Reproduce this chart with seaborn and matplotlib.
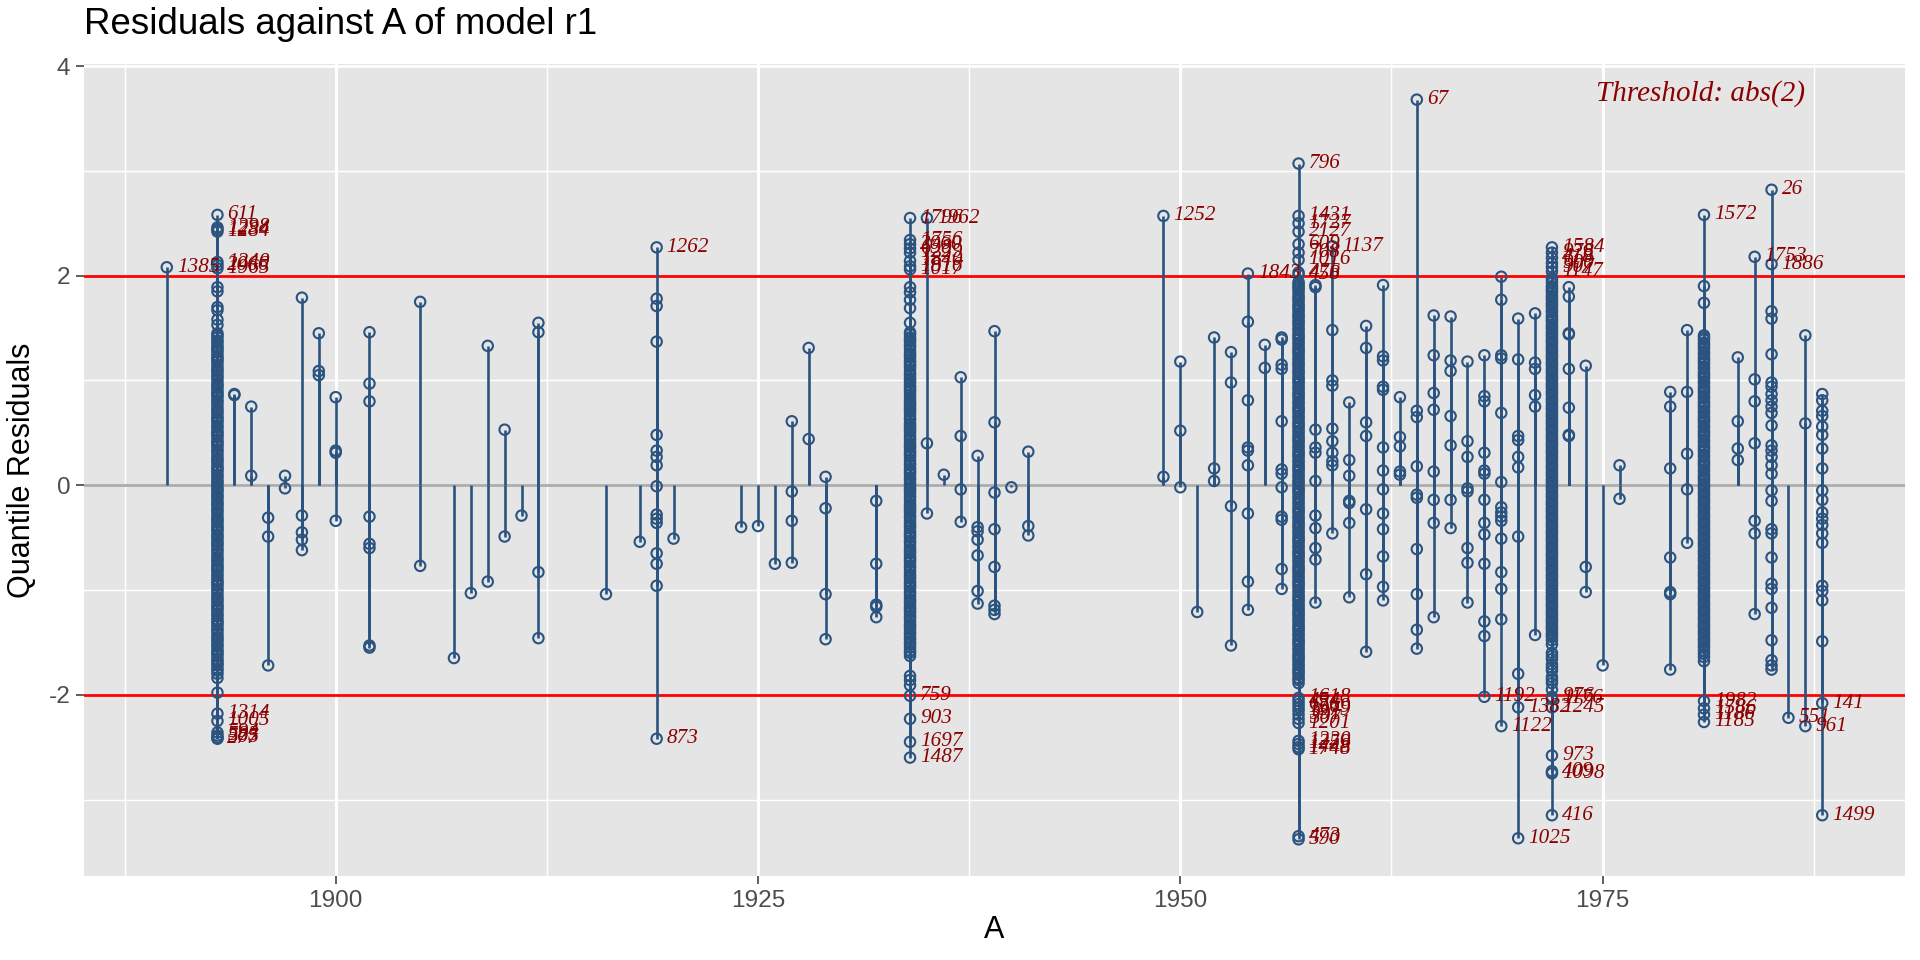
import matplotlib
matplotlib.use("Agg")
import numpy as np
import pandas as pd
import matplotlib.pyplot as plt
import seaborn as sns


sparse_years = [1894, 1895, 1896, 1897, 1898, 1899, 1900, 1902, 1905, 1907, 1908, 1909,
                1910, 1911, 1912, 1916, 1918, 1919, 1920, 1924, 1925, 1926, 1927, 1928,
                1929, 1932, 1935, 1936, 1937, 1938, 1939, 1940, 1941, 1949, 1950, 1951,
                1952, 1953, 1954, 1955, 1956, 1958, 1959, 1960, 1961, 1962, 1963, 1964,
                1965, 1966, 1967, 1968, 1969, 1970, 1971, 1973, 1974, 1975, 1976, 1979,
                1980, 1983, 1984, 1985, 1987, 1988]

sparse_values = [
    [0.87, 0.86],
    [0.75, 0.09],
    [-0.31, -0.49, -1.72],
    [0.09, -0.03],
    [1.79, -0.29, -0.45, -0.52, -0.62],
    [1.45, 1.09, 1.05],
    [0.84, 0.33, 0.31, -0.34],
    [1.46, 0.97, 0.80, -0.30, -0.56, -0.60, -1.53, -1.55],
    [1.75, -0.77],
    [-1.65],
    [-1.03],
    [1.33, -0.92],
    [0.53, -0.49],
    [-0.29],
    [1.55, 1.46, -0.83, -1.46],
    [-1.04],
    [-0.54],
    [1.78, 1.71, 1.37, 0.48, 0.33, 0.27, 0.19, -0.01, -0.28, -0.32, -0.36, -0.65, -0.75, -0.96],
    [-0.51],
    [-0.40],
    [-0.39],
    [-0.75],
    [0.61, -0.06, -0.34, -0.74],
    [1.31, 0.44],
    [0.08, -0.22, -1.04, -1.47],
    [-0.15, -0.75, -1.14, -1.16, -1.26],
    [0.40, -0.27],
    [0.10],
    [1.03, 0.47, -0.04, -0.35],
    [0.28, -0.40, -0.44, -0.52, -0.67, -1.01, -1.13],
    [1.47, 0.60, -0.07, -0.42, -0.78, -1.15, -1.19, -1.23],
    [-0.02],
    [0.32, -0.39, -0.48],
    [0.08],
    [1.18, 0.52, -0.02],
    [-1.21],
    [1.41, 0.16, 0.04],
    [1.27, 0.98, -0.20, -1.53],
    [1.56, 0.81, 0.36, 0.33, 0.19, -0.27, -0.92, -1.19],
    [1.34, 1.12],
    [1.41, 1.39, 1.15, 1.11, 0.61, 0.15, 0.11, -0.02, -0.30, -0.33, -0.80, -0.99],
    [1.91, 1.89, 0.53, 0.36, 0.31, 0.04, -0.29, -0.41, -0.60, -0.71, -1.12],
    [1.48, 1.00, 0.95, 0.54, 0.42, 0.31, 0.23, 0.19, -0.46],
    [0.79, 0.24, 0.09, -0.15, -0.17, -0.36, -1.07],
    [1.52, 1.31, 0.60, 0.47, -0.23, -0.85, -1.59],
    [1.91, 1.23, 1.19, 0.94, 0.91, 0.36, 0.14, -0.04, -0.27, -0.42, -0.68, -0.97, -1.10],
    [0.84, 0.46, 0.37, 0.13, 0.10],
    [0.71, 0.65, 0.18, -0.09, -0.12, -0.61, -1.04, -1.38, -1.56],
    [1.62, 1.24, 0.88, 0.72, 0.13, -0.14, -0.36, -1.26],
    [1.61, 1.19, 1.09, 0.66, 0.38, -0.14, -0.41],
    [1.18, 0.42, 0.27, -0.03, -0.06, -0.60, -0.74, -1.12],
    [1.24, 0.85, 0.80, 0.31, 0.14, 0.11, -0.14, -0.36, -0.47, -0.75, -1.30, -1.44],
    [1.99, 1.77, 1.24, 1.21, 0.69, 0.03, -0.21, -0.26, -0.30, -0.34, -0.51, -0.83, -0.99, -1.28],
    [1.59, 1.20, 0.47, 0.43, 0.27, 0.17, -0.49, -1.80],
    [1.64, 1.17, 1.11, 0.86, 0.75, -1.43],
    [1.89, 1.80, 1.45, 1.44, 1.11, 0.74, 0.48, 0.47],
    [1.14, -0.78, -1.02],
    [-1.72],
    [0.19, -0.13],
    [0.89, 0.75, 0.16, -0.69, -1.02, -1.04, -1.76],
    [1.48, 0.89, 0.30, -0.04, -0.55],
    [1.22, 0.61, 0.35, 0.24],
    [1.01, 0.80, 0.40, -0.34, -0.46, -1.23],
    [1.66, 1.59, 1.25, 0.98, 0.94, 0.87, 0.81, 0.75, 0.69, 0.57, 0.38, 0.33, 0.27, 0.19,
     0.11, -0.05, -0.15, -0.42, -0.46, -0.69, -0.94, -0.99, -1.17, -1.48, -1.67, -1.72, -1.76],
    [1.43, 0.59],
    [0.87, 0.81, 0.71, 0.66, 0.56, 0.48, 0.35, 0.16, -0.05, -0.14, -0.26, -0.32, -0.38,
     -0.46, -0.55, -0.96, -1.01, -1.10, -1.49],
]

# crowded years (solid bands in the chart), values inside the thresholds
res_1893 = [1.89, 1.85, 1.70, 1.67, 1.58, 1.53, 1.45, 1.41, 1.36, 1.31, 1.27, 1.22, 1.18,
            1.12, 1.08, 1.03, 0.97, 0.93, 0.88, 0.84, 0.79, 0.73, 0.69, 0.64, 0.60, 0.55,
            0.50, 0.46, 0.41, 0.37, 0.32, 0.26, 0.22, 0.17, 0.13, 0.08, 0.03, -0.02, -0.06,
            -0.11, -0.16, -0.20, -0.25, -0.31, -0.35, -0.40, -0.44, -0.49, -0.54, -0.58,
            -0.63, -0.69, -0.73, -0.78, -0.82, -0.87, -0.92, -0.96, -1.01, -1.07, -1.11,
            -1.16, -1.20, -1.25, -1.30, -1.34, -1.39, -1.45, -1.49, -1.54, -1.59, -1.63,
            -1.68, -1.72, -1.77, -1.84, -1.98,
            1.43, 1.38, 1.33, 1.29, 1.24, 1.20, 1.15, 1.10, 1.05, 1.00, 0.95, 0.90, 0.86,
            0.81, 0.76, 0.71, 0.66, 0.62, 0.57, 0.52, 0.48, 0.43, 0.39, 0.34, 0.29, 0.24,
            0.19, 0.15, 0.10, 0.05, 0.01, -0.04, -0.09, -0.13, -0.18, -0.23, -0.28, -0.33,
            -0.38, -0.42, -0.47, -0.51, -0.56, -0.61, -0.66, -0.71, -0.76, -0.80, -0.85,
            -0.90, -0.94, -0.99, -1.04, -1.09, -1.14, -1.18, -1.23, -1.28, -1.32, -1.37,
            -1.42, -1.47, -1.52, -1.57, -1.61, -1.66, -1.70, -1.75, -1.80]
res_1934 = [1.89, 1.84, 1.77, 1.69, 1.55, 1.46, 1.41, 1.37, 1.32, 1.26, 1.22, 1.17, 1.13,
            1.07, 1.02, 0.98, 0.93, 0.89, 0.83, 0.78, 0.74, 0.70, 0.64, 0.59, 0.55, 0.51,
            0.45, 0.40, 0.36, 0.31, 0.27, 0.21, 0.16, 0.12, 0.07, 0.02, -0.03, -0.07, -0.12,
            -0.18, -0.22, -0.26, -0.31, -0.37, -0.41, -0.46, -0.50, -0.55, -0.61, -0.65,
            -0.70, -0.74, -0.79, -0.85, -0.89, -0.94, -0.98, -1.03, -1.09, -1.13, -1.18,
            -1.22, -1.27, -1.33, -1.37, -1.42, -1.47, -1.52, -1.58, -1.63, -1.82, -1.86, -1.91,
            1.44, 1.39, 1.34, 1.29, 1.24, 1.19, 1.15, 1.10, 1.05, 1.00, 0.95, 0.91, 0.86,
            0.80, 0.76, 0.72, 0.67, 0.62, 0.57, 0.53, 0.48, 0.43, 0.38, 0.33, 0.29, 0.24,
            0.19, 0.14, 0.10, 0.05, 0.00, -0.05, -0.10, -0.15, -0.20, -0.24, -0.29, -0.34,
            -0.39, -0.44, -0.48, -0.53, -0.58, -0.63, -0.68, -0.72, -0.77, -0.82, -0.87,
            -0.92, -0.96, -1.01, -1.06, -1.11, -1.16, -1.20, -1.25, -1.30, -1.35, -1.40,
            -1.45, -1.50, -1.55, -1.60]
res_1957 = [1.94, 1.90, 1.86, 1.80, 1.76, 1.71, 1.67, 1.62, 1.57, 1.53, 1.48, 1.43, 1.39,
            1.34, 1.29, 1.25, 1.20, 1.15, 1.10, 1.06, 1.01, 0.97, 0.92, 0.87, 0.83, 0.78,
            0.73, 0.69, 0.64, 0.59, 0.55, 0.50, 0.45, 0.41, 0.36, 0.31, 0.27, 0.22, 0.17,
            0.13, 0.08, 0.03, -0.02, -0.06, -0.11, -0.16, -0.21, -0.25, -0.30, -0.35, -0.39,
            -0.44, -0.49, -0.53, -0.58, -0.63, -0.67, -0.72, -0.77, -0.81, -0.86, -0.91,
            -0.95, -1.00, -1.05, -1.09, -1.14, -1.19, -1.23, -1.28, -1.33, -1.37, -1.42,
            -1.47, -1.51, -1.56, -1.61, -1.65, -1.70, -1.75, -1.79, -1.84, -1.89,
            1.92, 1.88, 1.83, 1.78, 1.73, 1.69, 1.64, 1.60, 1.55, 1.50, 1.45, 1.41, 1.36,
            1.31, 1.27, 1.22, 1.17, 1.13, 1.08, 1.03, 0.99, 0.94, 0.89, 0.85, 0.80, 0.75,
            0.71, 0.66, 0.61, 0.57, 0.52, 0.47, 0.43, 0.38, 0.33, 0.29, 0.24, 0.19, 0.15,
            0.10, 0.05, 0.01, -0.04, -0.08, -0.13, -0.18, -0.23, -0.27, -0.32, -0.37, -0.41,
            -0.46, -0.51, -0.55, -0.60, -0.65, -0.69, -0.74, -0.79, -0.83, -0.88, -0.93,
            -0.97, -1.02, -1.07, -1.11, -1.16, -1.21, -1.25, -1.30, -1.35, -1.39, -1.44,
            -1.49, -1.53, -1.58, -1.63, -1.67, -1.72, -1.77, -1.81, -1.86]
res_1972 = [1.98, 1.93, 1.88, 1.84, 1.79, 1.74, 1.70, 1.65, 1.60, 1.56, 1.51, 1.46, 1.42,
            1.37, 1.32, 1.28, 1.23, 1.18, 1.14, 1.09, 1.04, 1.00, 0.95, 0.90, 0.86, 0.81,
            0.76, 0.72, 0.67, 0.62, 0.58, 0.53, 0.48, 0.44, 0.39, 0.34, 0.30, 0.25, 0.20,
            0.16, 0.11, 0.06, 0.02, -0.03, -0.08, -0.12, -0.17, -0.22, -0.26, -0.31, -0.36,
            -0.40, -0.45, -0.50, -0.54, -0.59, -0.64, -0.68, -0.73, -0.78, -0.82, -0.87,
            -0.92, -0.96, -1.01, -1.06, -1.10, -1.15, -1.20, -1.24, -1.29, -1.34, -1.38,
            -1.43, -1.48, -1.60, -1.66, -1.71, -1.77, -1.83, -1.89, -1.95,
            1.96, 1.90, 1.86, 1.81, 1.77, 1.72, 1.67, 1.62, 1.58, 1.53, 1.49, 1.44, 1.39,
            1.35, 1.30, 1.25, 1.21, 1.16, 1.11, 1.07, 1.02, 0.97, 0.93, 0.88, 0.83, 0.79,
            0.74, 0.69, 0.65, 0.60, 0.55, 0.51, 0.46, 0.41, 0.37, 0.32, 0.27, 0.23, 0.18,
            0.13, 0.09, 0.04, -0.01, -0.05, -0.10, -0.15, -0.19, -0.24, -0.29, -0.33, -0.38,
            -0.43, -0.47, -0.52, -0.57, -0.61, -0.66, -0.71, -0.75, -0.80, -0.85, -0.89,
            -0.94, -0.99, -1.03, -1.08, -1.13, -1.17, -1.22, -1.27, -1.31, -1.36, -1.41,
            -1.45, -1.52, -1.63, -1.74, -1.86]
res_1981 = [1.90, 1.74, 1.43, 1.39, 1.34, 1.30, 1.25, 1.20, 1.16, 1.11, 1.06, 1.02, 0.97,
            0.92, 0.88, 0.83, 0.78, 0.74, 0.69, 0.64, 0.60, 0.55, 0.50, 0.46, 0.41, 0.36,
            0.32, 0.27, 0.22, 0.18, 0.13, 0.08, 0.04, -0.01, -0.06, -0.10, -0.15, -0.20,
            -0.24, -0.29, -0.34, -0.38, -0.43, -0.48, -0.52, -0.57, -0.62, -0.66, -0.71,
            -0.76, -0.80, -0.85, -0.90, -0.94, -0.99, -1.04, -1.08, -1.13, -1.18, -1.22,
            -1.27, -1.32, -1.36, -1.41, -1.46, -1.50, -1.55, -1.61, -1.68,
            1.41, 1.36, 1.32, 1.27, 1.22, 1.18, 1.13, 1.08, 1.04, 0.99, 0.94, 0.90, 0.85,
            0.80, 0.76, 0.71, 0.66, 0.62, 0.57, 0.52, 0.48, 0.43, 0.38, 0.34, 0.29, 0.24,
            0.20, 0.15, 0.10, 0.06, 0.01, -0.03, -0.08, -0.13, -0.17, -0.22, -0.27, -0.31,
            -0.36, -0.41, -0.45, -0.50, -0.55, -0.59, -0.64, -0.69, -0.73, -0.78, -0.83,
            -0.87, -0.92, -0.97, -1.01, -1.06, -1.11, -1.15, -1.20, -1.25, -1.29, -1.34,
            -1.39, -1.43, -1.48, -1.53, -1.58, -1.64]

# observations beyond abs(2), with their row ids
flag_years = [1890,
              1893, 1893, 1893, 1893, 1893, 1893, 1893, 1893, 1893, 1893, 1893, 1893, 1893,
              1919, 1919,
              1934, 1934, 1934, 1934, 1934, 1934, 1934, 1934, 1934, 1934, 1934, 1934,
              1935, 1949, 1954,
              1957, 1957, 1957, 1957, 1957, 1957, 1957, 1957, 1957, 1957, 1957, 1957,
              1957, 1957, 1957, 1957, 1957, 1957, 1957, 1957, 1957, 1957, 1957,
              1959, 1964, 1968, 1969, 1970, 1970,
              1972, 1972, 1972, 1972, 1972, 1972, 1972, 1972, 1972, 1972, 1972, 1972, 1972,
              1981, 1981, 1981, 1981, 1981,
              1984, 1985, 1985, 1986, 1987, 1988, 1988]
flag_values = [2.08,
               2.58, 2.46, 2.44, 2.42, 2.13, 2.10, 2.07, -2.18, -2.25, -2.36, -2.39, -2.41, -2.42,
               2.27, -2.42,
               2.55, 2.34, 2.30, 2.26, 2.22, 2.14, 2.09, 2.06, -2.01, -2.23, -2.45, -2.60,
               2.55, 2.57, 2.02,
               3.07, 2.57, 2.50, 2.42, 2.30, 2.22, 2.15, 2.03, 2.01,
               -2.03, -2.06, -2.09, -2.12, -2.15, -2.19, -2.23, -2.27, -2.44, -2.47, -2.50,
               -2.52, -3.35, -3.38,
               2.28, 3.68, -2.02, -2.30, -2.12, -3.37,
               2.27, 2.22, 2.17, 2.12, 2.08, 2.04, -2.02, -2.04, -2.12, -2.58, -2.73, -2.75, -3.15,
               2.58, -2.06, -2.13, -2.19, -2.26,
               2.18, 2.82, 2.11, -2.22, -2.30, -2.08, -3.15]
flag_ids = ["1385",
            "611", "1298", "1234", "1284", "1240", "2066", "1965", "1314", "1005", "594",
            "583", "505", "277",
            "1262", "873",
            "1796", "1756", "2060", "638", "1229", "1840", "1816", "1017", "759", "903",
            "1697", "1487",
            "1962", "1252", "1843",
            "796", "1431", "1727", "2127", "609", "708", "1016", "476", "458",
            "1618", "454", "676", "1569", "1979", "391", "307", "1201", "1220", "1259",
            "1448", "1748", "473", "590",
            "1137", "67", "1192", "1122", "1382", "1025",
            "1584", "978", "418", "900", "907", "1147", "976", "1176", "1245", "973",
            "409", "1098", "416",
            "1572", "1982", "1586", "1186", "1185",
            "1753", "26", "1886", "551", "961", "141", "1499"]

threshold = 2
threshold_note = "Threshold: abs(2)"


def build_points():
	rows = []
	for yr, vals in zip(sparse_years, sparse_values):
		rows += [(yr, v) for v in vals]
	for yr, vals in [(1893, res_1893), (1934, res_1934), (1957, res_1957),
	                 (1972, res_1972), (1981, res_1981)]:
		rows += [(yr, v) for v in vals]
	rows += list(zip(flag_years, flag_values))
	return pd.DataFrame(rows, columns=["A", "resid"])


pts = build_points()
flags = pd.DataFrame({"A": flag_years, "resid": flag_values, "id": flag_ids})

sns.set_style("darkgrid", {"axes.facecolor": "#E5E5E5", "grid.color": "white"})
plt.rcParams["font.family"] = ["Liberation Sans", "DejaVu Sans"]
plt.rcParams["axes.unicode_minus"] = False

blue = "#2B5380"
dark_red = "#8B0000"

fig = plt.figure(figsize=(9.6, 4.8), dpi=200)
ax = fig.add_axes([84 / 1920, 1 - 876 / 960, (1905 - 84) / 1920, (876 - 64) / 960])

# segments from zero to each residual
ax.vlines(pts["A"], 0, pts["resid"], color=blue, linewidth=0.95, zorder=2)
ax.axhline(0, color="#ABABAB", linewidth=1.0, zorder=1.5)
ax.axhline(threshold, color="red", linewidth=1.0, zorder=1.6)
ax.axhline(-threshold, color="red", linewidth=1.0, zorder=1.6)

sns.scatterplot(data=pts, x="A", y="resid", ax=ax, marker="o", s=14,
                color=blue, facecolor="none", edgecolor=blue, linewidth=0.75,
                zorder=3, legend=False)

for _, row in flags.iterrows():
	ax.annotate(row["id"], (row["A"], row["resid"]), xytext=(3.6, 0),
	            textcoords="offset points", ha="left", va="center",
	            fontsize=7.6, color=dark_red, style="italic",
	            family=["Liberation Serif", "DejaVu Serif"], zorder=4)

ax.text(1987, 3.74, threshold_note, ha="right", va="center", fontsize=10.5,
        color=dark_red, style="italic", family=["Liberation Serif", "DejaVu Serif"])

ax.set_xlim(1885.1, 1992.9)
ax.set_ylim(-3.73, 4.02)
ax.set_xticks([1900, 1925, 1950, 1975])
ax.set_xticks([1887.5, 1912.5, 1937.5, 1962.5, 1987.5], minor=True)
ax.set_yticks([-2, 0, 2, 4])
ax.set_yticks([-3, -1, 1, 3], minor=True)
ax.grid(which="major", color="white", linewidth=1.07)
ax.grid(which="minor", color="white", linewidth=0.53)
for s in ax.spines.values():
	s.set_visible(False)
ax.tick_params(which="major", length=2.75, width=0.55, color="#333333",
               labelsize=8.8, labelcolor="#4D4D4D", pad=2.2, bottom=True, left=True)
ax.tick_params(which="minor", length=0)
ax.set_xlabel("")
ax.set_ylabel("")

fig.text(84 / 1920, 1 - 25 / 960, "Residuals against A of model r1", ha="left",
         va="center", fontsize=13.2, color="black")
fig.text((84 + 1905) / 2 / 1920, 1 - 930 / 960, "A", ha="center", va="center",
         fontsize=11, color="black")
fig.text(22 / 1920, 1 - 470 / 960, "Quantile Residuals", ha="center", va="center",
         rotation=90, fontsize=11, color="black")

fig.savefig("out.png", dpi=200, facecolor="white")
plt.close(fig)
